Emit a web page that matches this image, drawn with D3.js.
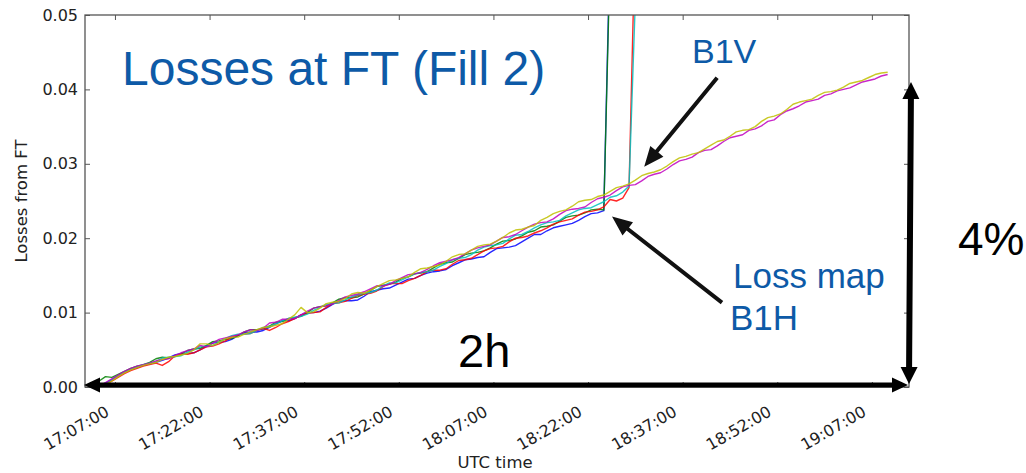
<!DOCTYPE html>
<html>
<head>
<meta charset="utf-8">
<script src="https://cdn.jsdelivr.net/npm/d3@7"></script>
<style>
  body { margin: 0; background: #fff; }
  svg { display: block; }
</style>
</head>
<body>
<script>
// Fractional beam losses at flat top, one reading per minute from 17:04:30 (UTC)
const sampleStart = "17:04:30";
const sampleStepMinutes = 1;

const tickLabels = ["17:07:00", "17:22:00", "17:37:00", "17:52:00", "18:07:00",
                    "18:22:00", "18:37:00", "18:52:00", "19:07:00"];
const yTickValues = [0.00, 0.01, 0.02, 0.03, 0.04, 0.05];

// last entry of the first four series is the reading just after the beam was lost
const lossBlue = [
  0.0002,0.0005,0.0010,0.0015,0.0020,0.0024,0.0026,0.0029,0.0031,0.0033,
  0.0036,0.0039,0.0043,0.0045,0.0045,0.0046,0.0050,0.0055,0.0059,0.0060,
  0.0061,0.0064,0.0069,0.0073,0.0074,0.0074,0.0076,0.0080,0.0085,0.0089,
  0.0089,0.0092,0.0097,0.0100,0.0100,0.0102,0.0106,0.0111,0.0115,0.0116,
  0.0116,0.0117,0.0122,0.0128,0.0130,0.0132,0.0133,0.0137,0.0141,0.0145,
  0.0146,0.0150,0.0153,0.0155,0.0156,0.0158,0.0163,0.0167,0.0171,0.0172,
  0.0174,0.0175,0.0181,0.0186,0.0187,0.0188,0.0190,0.0195,0.0200,0.0205,
  0.0205,0.0210,0.0214,0.0216,0.0218,0.0220,0.0224,0.0229,0.0233,0.0234,
  0.0237,0.0600];
const lossGreen = [
  0.0008,0.0014,0.0013,0.0017,0.0021,0.0025,0.0028,0.0030,0.0033,0.0038,
  0.0040,0.0039,0.0041,0.0045,0.0049,0.0051,0.0052,0.0056,0.0061,0.0062,
  0.0064,0.0065,0.0069,0.0074,0.0077,0.0077,0.0078,0.0082,0.0087,0.0088,
  0.0092,0.0093,0.0095,0.0100,0.0106,0.0108,0.0109,0.0113,0.0118,0.0120,
  0.0120,0.0121,0.0125,0.0130,0.0135,0.0137,0.0138,0.0141,0.0146,0.0148,
  0.0152,0.0153,0.0155,0.0160,0.0165,0.0167,0.0168,0.0173,0.0178,0.0180,
  0.0181,0.0183,0.0187,0.0192,0.0196,0.0197,0.0199,0.0203,0.0208,0.0210,
  0.0215,0.0216,0.0218,0.0223,0.0228,0.0230,0.0231,0.0234,0.0238,0.0239,
  0.0238,0.0580];
const lossRed = [
  0.0003,0.0004,0.0008,0.0013,0.0018,0.0022,0.0025,0.0028,0.0030,0.0032,
  0.0029,0.0034,0.0042,0.0044,0.0044,0.0046,0.0050,0.0054,0.0055,0.0058,
  0.0062,0.0067,0.0070,0.0071,0.0072,0.0076,0.0079,0.0076,0.0080,0.0085,
  0.0088,0.0092,0.0097,0.0099,0.0100,0.0101,0.0107,0.0112,0.0113,0.0115,
  0.0119,0.0123,0.0125,0.0126,0.0129,0.0135,0.0139,0.0139,0.0139,0.0143,
  0.0146,0.0150,0.0155,0.0157,0.0157,0.0159,0.0165,0.0170,0.0171,0.0173,
  0.0178,0.0183,0.0186,0.0187,0.0189,0.0195,0.0200,0.0201,0.0203,0.0207,
  0.0210,0.0214,0.0219,0.0222,0.0224,0.0226,0.0231,0.0235,0.0236,0.0238,
  0.0242,0.0252,0.0250,0.0254,0.0268,0.0620];
const lossCyan = [
  0.0001,0.0005,0.0010,0.0015,0.0020,0.0024,0.0027,0.0030,0.0032,0.0034,
  0.0039,0.0040,0.0041,0.0042,0.0047,0.0050,0.0054,0.0055,0.0056,0.0060,
  0.0065,0.0069,0.0071,0.0071,0.0072,0.0076,0.0080,0.0081,0.0085,0.0089,
  0.0092,0.0094,0.0095,0.0098,0.0103,0.0107,0.0111,0.0112,0.0113,0.0117,
  0.0121,0.0124,0.0126,0.0127,0.0130,0.0136,0.0140,0.0140,0.0144,0.0148,
  0.0152,0.0154,0.0155,0.0157,0.0162,0.0166,0.0171,0.0173,0.0174,0.0178,
  0.0184,0.0188,0.0190,0.0191,0.0193,0.0199,0.0204,0.0205,0.0209,0.0214,
  0.0218,0.0221,0.0222,0.0224,0.0230,0.0234,0.0238,0.0240,0.0241,0.0245,
  0.0249,0.0255,0.0257,0.0262,0.0270,0.0520];
const lossMagenta = [
  0.0002,0.0006,0.0011,0.0016,0.0021,0.0025,0.0028,0.0030,0.0032,0.0035,
  0.0037,0.0038,0.0042,0.0046,0.0049,0.0051,0.0056,0.0054,0.0059,0.0064,
  0.0066,0.0068,0.0070,0.0074,0.0077,0.0076,0.0079,0.0086,0.0087,0.0091,
  0.0091,0.0092,0.0097,0.0102,0.0106,0.0108,0.0109,0.0112,0.0116,0.0121,
  0.0123,0.0125,0.0128,0.0132,0.0136,0.0136,0.0138,0.0143,0.0147,0.0151,
  0.0152,0.0154,0.0158,0.0163,0.0167,0.0169,0.0171,0.0174,0.0179,0.0184,
  0.0187,0.0189,0.0191,0.0196,0.0201,0.0202,0.0205,0.0210,0.0215,0.0219,
  0.0221,0.0222,0.0226,0.0232,0.0237,0.0239,0.0240,0.0242,0.0248,0.0253,
  0.0255,0.0258,0.0264,0.0269,0.0271,0.0272,0.0277,0.0283,0.0286,0.0288,
  0.0293,0.0299,0.0304,0.0306,0.0309,0.0315,0.0318,0.0319,0.0324,0.0330,
  0.0335,0.0337,0.0339,0.0345,0.0347,0.0351,0.0357,0.0359,0.0366,0.0371,
  0.0374,0.0378,0.0383,0.0385,0.0387,0.0392,0.0394,0.0398,0.0400,0.0402,
  0.0406,0.0410,0.0412,0.0414,0.0418,0.0420];
const lossYellow = [
  0.0000,0.0003,0.0008,0.0014,0.0019,0.0023,0.0026,0.0029,0.0031,0.0033,
  0.0037,0.0040,0.0041,0.0043,0.0045,0.0050,0.0058,0.0058,0.0056,0.0060,
  0.0065,0.0067,0.0067,0.0071,0.0074,0.0077,0.0080,0.0081,0.0083,0.0085,
  0.0091,0.0097,0.0107,0.0100,0.0101,0.0106,0.0112,0.0114,0.0115,0.0119,
  0.0125,0.0127,0.0126,0.0130,0.0135,0.0139,0.0143,0.0144,0.0146,0.0148,
  0.0154,0.0159,0.0160,0.0162,0.0164,0.0169,0.0175,0.0178,0.0179,0.0184,
  0.0189,0.0191,0.0192,0.0196,0.0201,0.0207,0.0211,0.0212,0.0215,0.0217,
  0.0224,0.0228,0.0233,0.0236,0.0238,0.0243,0.0249,0.0251,0.0252,0.0256,
  0.0258,0.0263,0.0268,0.0270,0.0273,0.0278,0.0284,0.0287,0.0289,0.0292,
  0.0297,0.0303,0.0308,0.0310,0.0313,0.0315,0.0320,0.0325,0.0330,0.0332,
  0.0337,0.0343,0.0345,0.0346,0.0350,0.0357,0.0362,0.0364,0.0367,0.0373,
  0.0380,0.0383,0.0385,0.0387,0.0392,0.0396,0.0397,0.0399,0.0403,0.0408,
  0.0410,0.0412,0.0416,0.0420,0.0422,0.0423];

const seriesValues = [lossBlue, lossGreen, lossRed, lossCyan, lossMagenta, lossYellow];
const seriesColors = ["#0000ff", "#008000", "#ff0000", "#00bfbf", "#bf00bf", "#bfbf00"];

// full height of the 4% marker and where the two pointers land
const markerTop = 0.0410;
const lossMapPoint = { time: "18:25:48", value: 0.0229 };
const b1vPoint = { time: "18:30:54", value: 0.0296 };

const W = 1026, H = 473;
const margin = { left: 85, right: 117, top: 15, bottom: 86 };
const parseTime = d3.utcParse("%H:%M:%S");
const fmtTime = d3.utcFormat("%H:%M:%S");

const svg = d3.select("body").append("svg").attr("width", W).attr("height", H);

const x = d3.scaleUtc()
  .domain([parseTime("17:02:15"), parseTime("19:12:53")])
  .range([margin.left, W - margin.right]);
const y = d3.scaleLinear()
  .domain([0, 0.05])
  .range([H - margin.bottom, margin.top]);

const t0 = parseTime(sampleStart);
const timeAt = i => d3.utcMinute.offset(t0, i * sampleStepMinutes);

const tickFont = "'DejaVu Sans', sans-serif";
const annFont = "'Liberation Sans', Arial, sans-serif";
const blueText = "#0d5aa7";

// clip region for the traces
svg.append("clipPath").attr("id", "plot-clip")
  .append("rect")
  .attr("x", x.range()[0]).attr("y", y.range()[1])
  .attr("width", x.range()[1] - x.range()[0])
  .attr("height", y.range()[0] - y.range()[1]);

const line = d3.line()
  .x((d, i) => x(timeAt(i)))
  .y(d => y(d));

svg.append("g").attr("clip-path", "url(#plot-clip)")
  .selectAll("path")
  .data(seriesValues)
  .join("path")
  .attr("d", d => line(d))
  .attr("fill", "none")
  .attr("stroke", (d, i) => seriesColors[i])
  .attr("stroke-width", 1.4)
  .attr("stroke-opacity", 0.85)
  .attr("stroke-linejoin", "round");

// axes: inward ticks on all four sides
const xTicks = tickLabels.map(parseTime);
const axisColor = "#555";

const gBottom = svg.append("g")
  .attr("transform", `translate(0,${y(0)})`)
  .call(d3.axisBottom(x).tickValues(xTicks).tickSizeInner(-5).tickSizeOuter(0).tickFormat(fmtTime));
gBottom.select(".domain").remove();
gBottom.selectAll("line").attr("stroke", axisColor);
gBottom.selectAll("text")
  .attr("x", 0).attr("y", 0).attr("dy", "0.35em")
  .attr("text-anchor", "end")
  .attr("transform", "translate(-8,23) rotate(-30)")
  .attr("fill", "#222")
  .style("font-family", tickFont).style("font-size", "16px");

const gTop = svg.append("g")
  .attr("transform", `translate(0,${y(0.05)})`)
  .call(d3.axisTop(x).tickValues(xTicks).tickSizeInner(-5).tickSizeOuter(0).tickFormat(""));
gTop.select(".domain").remove();
gTop.selectAll("line").attr("stroke", axisColor);

const gLeft = svg.append("g")
  .attr("transform", `translate(${x.range()[0]},0)`)
  .call(d3.axisLeft(y).tickValues(yTickValues).tickSizeInner(-5).tickSizeOuter(0)
        .tickPadding(7).tickFormat(d3.format(".2f")));
gLeft.select(".domain").remove();
gLeft.selectAll("line").attr("stroke", axisColor);
gLeft.selectAll("text")
  .attr("fill", "#222")
  .style("font-family", tickFont).style("font-size", "16px");

const gRight = svg.append("g")
  .attr("transform", `translate(${x.range()[1]},0)`)
  .call(d3.axisRight(y).tickValues(yTickValues).tickSizeInner(-5).tickSizeOuter(0).tickFormat(""));
gRight.select(".domain").remove();
gRight.selectAll("line").attr("stroke", axisColor);

svg.append("rect")
  .attr("x", x.range()[0]).attr("y", y.range()[1])
  .attr("width", x.range()[1] - x.range()[0])
  .attr("height", y.range()[0] - y.range()[1])
  .attr("fill", "none").attr("stroke", axisColor).attr("stroke-width", 1.3);

svg.append("text")
  .attr("x", 495).attr("y", 468)
  .attr("text-anchor", "middle")
  .attr("fill", "#222")
  .style("font-family", tickFont).style("font-size", "16.5px")
  .text("UTC time");

svg.append("text")
  .attr("transform", "translate(21,201) rotate(-90)")
  .attr("dy", "0.35em")
  .attr("text-anchor", "middle")
  .attr("fill", "#222")
  .style("font-family", tickFont).style("font-size", "16.5px")
  .text("Losses from FT");

// arrow shapes
function arrowPath(x1, y1, x2, y2, w, hl, hw, both) {
  const dx = x2 - x1, dy = y2 - y1, L = Math.hypot(dx, dy);
  const ux = dx / L, uy = dy / L, nx = -uy, ny = ux;
  const pt = (s, t) => [x1 + ux * s + nx * t, y1 + uy * s + ny * t];
  const s1 = L - hl;
  const pts = [];
  if (both) pts.push(pt(0, 0), pt(hl, hw / 2), pt(hl, w / 2));
  else pts.push(pt(0, w / 2));
  pts.push(pt(s1, w / 2), pt(s1, hw / 2), pt(L, 0), pt(s1, -hw / 2), pt(s1, -w / 2));
  if (both) pts.push(pt(hl, -w / 2), pt(hl, -hw / 2));
  else pts.push(pt(0, -w / 2));
  return "M" + pts.map(p => p.map(v => v.toFixed(1)).join(",")).join("L") + "Z";
}

const ann = svg.append("g");

// 2h span along the time axis
ann.append("path")
  .attr("d", arrowPath(x.range()[0] - 1, y(0) - 2, x.range()[1] - 1, y(0) - 2, 5, 16, 15, true))
  .attr("fill", "#000");
// 4% span at the right edge
ann.append("path")
  .attr("d", arrowPath(x.range()[1], y(0) - 3, x.range()[1] + 2, y(markerTop), 6, 17, 17, true))
  .attr("fill", "#000");

// pointers to the two loss maps
const lmTip = [x(parseTime(lossMapPoint.time)), y(lossMapPoint.value)];
ann.append("path")
  .attr("d", arrowPath(lmTip[0] + 110, lmTip[1] + 86, lmTip[0], lmTip[1], 4, 20, 17, false))
  .attr("fill", "#111");
const bvTip = [x(parseTime(b1vPoint.time)), y(b1vPoint.value)];
ann.append("path")
  .attr("d", arrowPath(bvTip[0] + 73, bvTip[1] - 89, bvTip[0], bvTip[1], 4, 20, 17, false))
  .attr("fill", "#111");

ann.append("text")
  .attr("x", 122).attr("y", 85)
  .attr("fill", blueText)
  .style("font-family", annFont).style("font-size", "48px")
  .text("Losses at FT (Fill 2)");

ann.append("text")
  .attr("x", 692).attr("y", 63)
  .attr("fill", blueText)
  .style("font-family", annFont).style("font-size", "34px")
  .text("B1V");

ann.append("text")
  .attr("x", 733).attr("y", 288)
  .attr("fill", blueText)
  .style("font-family", annFont).style("font-size", "35px")
  .text("Loss map");

ann.append("text")
  .attr("x", 730).attr("y", 330)
  .attr("fill", blueText)
  .style("font-family", annFont).style("font-size", "35px")
  .text("B1H");

ann.append("text")
  .attr("x", 458).attr("y", 367)
  .attr("fill", "#000")
  .style("font-family", annFont).style("font-size", "47px")
  .text("2h");

ann.append("text")
  .attr("x", 958).attr("y", 255)
  .attr("fill", "#000")
  .style("font-family", annFont).style("font-size", "46px")
  .text("4%");
</script>
</body>
</html>
